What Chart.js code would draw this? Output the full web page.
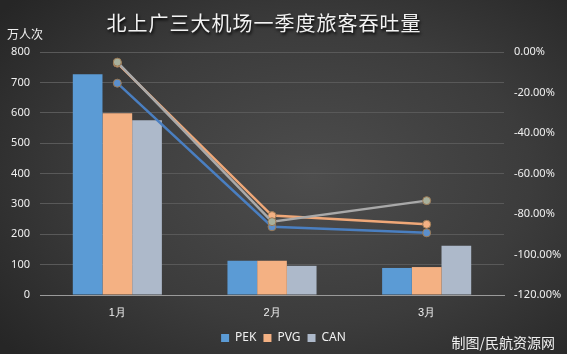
<!DOCTYPE html>
<html>
<head>
<meta charset="utf-8">
<script src="https://cdn.jsdelivr.net/npm/chart.js@4/dist/chart.umd.min.js"></script>
<style>
  html, body { margin: 0; padding: 0; }
  body { width: 567px; height: 354px; overflow: hidden; }
  #wrap {
    position: relative; width: 567px; height: 354px;
    background: radial-gradient(ellipse 70% 75% at 55% 50%, #4d4d4d 0%, #3c3c3c 55%, #262626 100%);
    font-family: "Noto Sans CJK SC", "Noto Sans", sans-serif;
  }
  #title {
    position: absolute; left: 0; width: 528px; top: 8px; text-align: center;
    color: #f2f2f2; font-size: 20px; letter-spacing: 1px;
    font-family: "Noto Sans CJK SC", serif;
    text-shadow: 1px 2px 3px #000;
  }
  #unit { position: absolute; left: 7px; top: 25px; color: #f0f0f0; font-size: 12px; }
  #mark { position: absolute; right: 12px; top: 332px; color: #f0f0f0; font-size: 14px; }
  canvas { position: absolute; left: 0; top: 0; }
</style>
</head>
<body>
<div id="wrap">
  <canvas id="c" width="567" height="354"></canvas>
  <div id="title">北上广三大机场一季度旅客吞吐量</div>
  <div id="unit">万人次</div>
  <div id="mark">制图/民航资源网</div>
</div>
<script>
const categories = ['1月', '2月', '3月'];
const seriesNames = ['PEK', 'PVG', 'CAN'];
const passengers = {
  PEK: [727, 113, 89],
  PVG: [598, 113, 92],
  CAN: [575, 96, 162]
};
const changePEK = [-15.4, -86.3, -89.3];
const changePVG = [-5.5, -80.8, -85.1];
const changeCAN = [-5.0, -83.8, -73.4];
const leftTicks = [0, 100, 200, 300, 400, 500, 600, 700, 800];
const rightTicks = [0, -20, -40, -60, -80, -100, -120];

const barColors = { PEK: '#5b9bd5', PVG: '#f4b183', CAN: '#adb9ca' };
const lineColors = { PEK: '#4a7fc1', PVG: '#f0a878', CAN: '#a9a9a9' };
const pointFill = { PEK: '#5b8fcc', PVG: '#f4b183', CAN: '#a8b09c' };
const lineOrder = { PEK: 1.5, PVG: 1, CAN: 0 };

const barSets = seriesNames.map(n => ({
  type: 'bar', label: n, data: passengers[n], backgroundColor: barColors[n],
  yAxisID: 'y', order: 2, barPercentage: 1.0, categoryPercentage: 0.576
}));
const changes = { PEK: changePEK, PVG: changePVG, CAN: changeCAN };
const lineSets = seriesNames.map(n => ({
  type: 'line', label: n + ' 同比', data: changes[n], borderColor: lineColors[n],
  backgroundColor: pointFill[n], pointBackgroundColor: pointFill[n],
  pointBorderColor: '#9c7a55', pointBorderWidth: 1, pointRadius: 4,
  borderWidth: 2.5, yAxisID: 'y1', order: lineOrder[n], tension: 0
}));

new Chart(document.getElementById('c'), {
  data: { labels: categories, datasets: [...barSets, ...lineSets] },
  options: {
    responsive: false, animation: false,
    layout: { padding: { top: 52, left: 0, right: 0, bottom: 0 } },
    plugins: {
      legend: {
        position: 'bottom',
        labels: {
          color: '#f0f0f0', boxWidth: 8, boxHeight: 8, padding: 7,
          font: { size: 12, family: '"Noto Sans", sans-serif' },
          filter: item => seriesNames.includes(item.text)
        }
      },
      title: { display: false },
      tooltip: { enabled: false }
    },
    scales: {
      x: {
        grid: { display: false, drawTicks: false },
        border: { color: '#9a9a9a', width: 1 },
        ticks: { color: '#f0f0f0', font: { size: 11 }, padding: 11 },
        afterFit: s => { s.height = 30; }
      },
      y: {
        position: 'left', min: 0, max: 800,
        afterBuildTicks: s => { s.ticks = leftTicks.map(v => ({ value: v })); },
        grid: { color: '#595959', drawTicks: false },
        border: { display: false },
        ticks: { color: '#f0f0f0', font: { size: 11, family: '"Noto Sans", sans-serif' }, padding: 10 },
        afterFit: s => { s.width = 40; }
      },
      y1: {
        position: 'right', min: -120, max: 0,
        afterBuildTicks: s => { s.ticks = rightTicks.map(v => ({ value: v })); },
        grid: { drawOnChartArea: false, drawTicks: false },
        border: { display: false },
        ticks: {
          color: '#f0f0f0', font: { size: 11, family: '"Noto Sans", sans-serif' }, padding: 10,
          callback: v => v.toFixed(2) + '%'
        },
        afterFit: s => { s.width = 63; }
      }
    }
  }
});
</script>
</body>
</html>
